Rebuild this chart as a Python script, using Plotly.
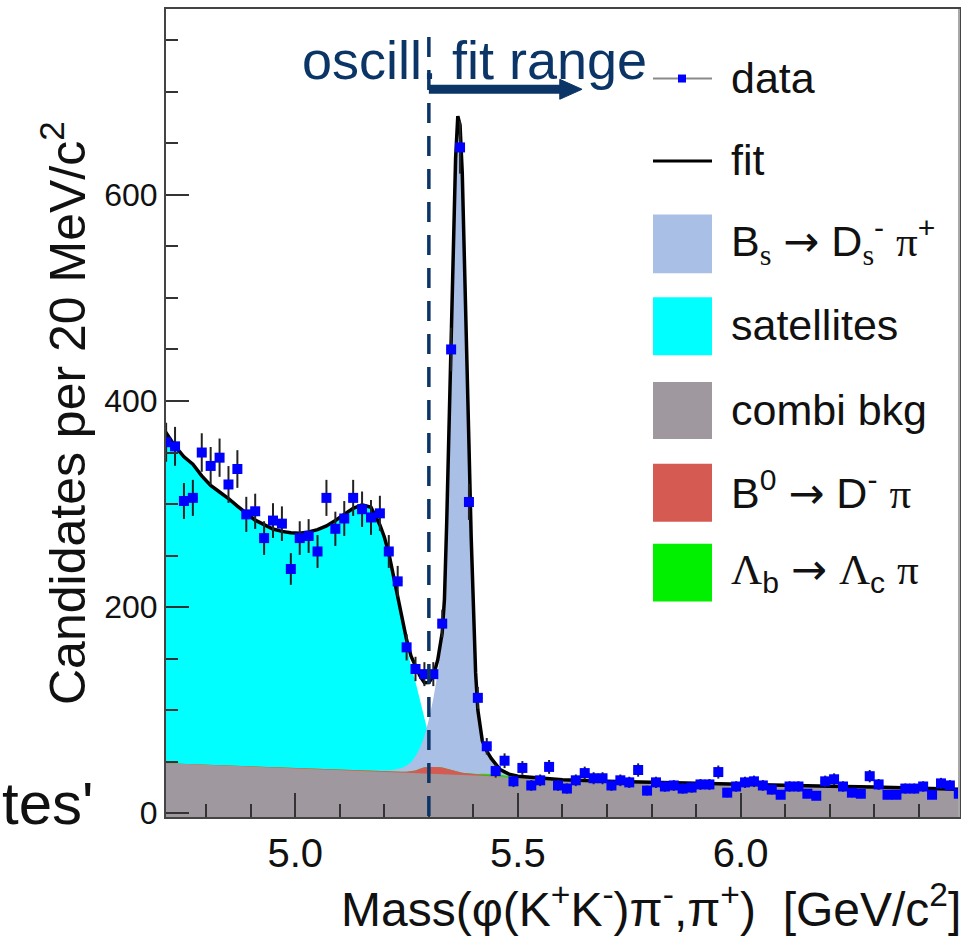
import numpy as np
import plotly.graph_objects as go

# ---------------------------------------------------------------
# Measured candidates, 20 MeV/c^2 bins (bin centres in GeV/c^2)
# ---------------------------------------------------------------
bin_centres = np.round(np.arange(4.71, 6.50, 0.02), 2)
counts = [
    360, 356, 303, 306, 350, 337, 345, 319, 334, 290,
    293, 267, 284, 281, 237, 267, 269, 254, 306, 276,
    286, 306, 295, 287, 291, 254, 225, 161, 140, 135,
    135, 184,
    450, 646, 302, 112, 65, 41, 51, 31, 44, 27,
    32, 45, 27, 24, 32, 39, 34, 34, 27, 32,
    30, 42, 22, 30, 26, 27, 24, 25, 28, 28,
    40, 20, 26, 30, 31, 27, 23, 18, 26, 26,
    19, 17, 31, 33, 26, 20, 19, 36, 28, 18,
    18, 24, 24, 26, 18, 29, 27, 19,
]

# ---------------------------------------------------------------
# Fit model components evaluated on a mass grid
# ---------------------------------------------------------------
m_fit = [
    4.70, 4.73, 4.75, 4.77, 4.79, 4.81, 4.83, 4.85, 4.87, 4.89,
    4.91, 4.93, 4.95, 4.97, 4.99, 5.01, 5.03, 5.05, 5.07, 5.09,
    5.11, 5.13, 5.15, 5.17, 5.19,
    5.20, 5.21, 5.22, 5.23, 5.24, 5.25, 5.26, 5.27, 5.28, 5.29,
    5.30, 5.31, 5.32, 5.33,
    5.335, 5.34, 5.345, 5.35, 5.355, 5.36, 5.365, 5.37, 5.375, 5.38,
    5.385, 5.39, 5.395, 5.40, 5.405, 5.41,
    5.42, 5.43, 5.44, 5.46, 5.48, 5.50, 5.55, 5.60, 5.70, 5.80,
    5.90, 6.00, 6.10, 6.20, 6.30, 6.40, 6.50,
]
combi_bkg = [
    48.7, 48.2, 47.9, 47.6, 47.3, 47.0, 46.7, 46.4, 46.0, 45.7,
    45.4, 45.1, 44.8, 44.5, 44.2, 43.8, 43.5, 43.2, 42.8, 42.5,
    42.1, 41.8, 41.5, 41.1, 40.8,
    40.6, 40.4, 40.3, 40.1, 39.9, 39.8, 39.6, 39.4, 39.3, 39.1,
    38.9, 38.8, 38.6, 38.4,
    38.3, 38.2, 38.1, 38.0, 37.9, 37.8, 37.7, 37.6, 37.5, 37.4,
    37.3, 37.2, 37.1, 37.0, 36.8, 36.7,
    36.4, 36.1, 35.8, 35.2, 34.6, 34.0, 33.0, 32.0, 30.8, 29.8,
    28.9, 28.0, 27.2, 26.3, 25.4, 24.4, 23.3,
]
satellites = [
    327, 308, 298, 291, 280, 271, 265, 259, 252, 245,
    239, 235, 231, 229, 228, 228, 229.5, 232, 236, 241.5,
    248, 254, 257.5, 255.5, 238.5,
    227, 211, 190, 169, 148, 122, 103, 88, 70, 52,
    36, 22, 12, 6,
    4, 3, 2, 1.5, 1, 0.5, 0.3, 0.2, 0, 0,
    0, 0, 0, 0, 0, 0,
    0, 0, 0, 0, 0, 0, 0, 0, 0, 0,
    0, 0, 0, 0, 0, 0, 0,
]
b0_dpi = [
    0, 0, 0, 0, 0, 0, 0, 0, 0, 0,
    0, 0, 0, 0, 0, 0, 0, 0, 0, 0,
    0, 0, 0, 0, 0,
    0, 0, 0.1, 0.2, 0.3, 0.5, 0.9, 2, 4, 5.5,
    6, 6.3, 6.3, 6,
    5.5, 5, 4.5, 4, 3.3, 2.8, 2.4, 2, 1.8, 1.6,
    1.5, 1.4, 1.3, 1.2, 1.1, 1.0,
    0.9, 0.8, 0.6, 0.4, 0.2, 0.1, 0, 0, 0, 0,
    0, 0, 0, 0, 0, 0, 0,
]
lb_lcpi = [
    0, 0, 0, 0, 0, 0, 0, 0, 0, 0,
    0, 0, 0, 0, 0, 0, 0, 0, 0, 0,
    0, 0, 0, 0, 0,
    0, 0, 0, 0, 0, 0, 0, 0, 0, 0,
    0, 0, 0, 0,
    0, 0, 0, 0, 0, 0, 0, 0, 0, 0,
    0, 0, 0, 0.2, 0.3, 0.5,
    1.0, 1.5, 1.8, 1.8, 1.2, 0.6, 0.1, 0, 0, 0,
    0, 0, 0, 0, 0, 0, 0,
]
bs_dspi = [
    0, 0, 0, 0, 0, 0, 0, 0, 0, 0,
    0, 0, 0, 0, 0, 0, 0, 0, 0, 0,
    0, 0.1, 0.2, 0.3, 0.4,
    0.5, 1, 1.5, 2.5, 4, 6, 9, 14, 20, 30,
    46, 66, 92, 125,
    160, 235, 325, 425, 520, 594, 636, 628, 582, 503,
    415, 320, 230, 160, 98, 62,
    32, 22, 15, 5, 2, 1.2, 0.8, 0.5, 0.3, 0.2,
    0.1, 0, 0, 0, 0, 0, 0,
]

# axis ticks
x_major = [5.0, 5.5, 6.0]
x_major_text = ["5.0", "5.5", "6.0"]
y_major = [0, 200, 400, 600]

# ---------------------------------------------------------------
# Stacked curves
# ---------------------------------------------------------------
combi = np.array(combi_bkg)
sat = np.array(satellites)
b0 = np.array(b0_dpi)
lb = np.array(lb_lcpi)
bs = np.array(bs_dspi)

sat_top = combi + sat
red_top = combi + b0
green_top = combi + b0 + lb
blue_top = combi + b0 + lb + bs
fit_total = combi + b0 + lb + sat + bs

FONT = "Arial, Liberation Sans, sans-serif"
NAVY = "#0b3566"
CYAN = "#00ffff"
BS_BLUE = "#a9bfe6"
GREY = "#9f999f"
RED = "#d45a52"
GREEN = "#00f000"

X_RANGE = [4.7097, 6.4905]
Y_RANGE = [-3.6, 780.3]

# pixel frame of the plotting area
PL, PR, PT, PB = 166, 959, 7, 817
W, H = PR - PL, PB - PT


def px(x):
    return (x - PL) / W


def py(y):
    return (PB - y) / H


fig = go.Figure()


def area(y, color, fill="tozeroy"):
    fig.add_trace(go.Scatter(
        x=m_fit, y=y, mode="lines", line=dict(width=0, color=color),
        fill=fill, fillcolor=color, showlegend=False, hoverinfo="skip"))


area(sat_top, CYAN)
area(blue_top, BS_BLUE)
area(green_top, GREEN)
area(red_top, RED)
# floor of the frame, so the combinatorial band reaches the bottom edge
fig.add_trace(go.Scatter(x=m_fit, y=[Y_RANGE[0]] * len(m_fit), mode="lines",
                         line=dict(width=0), showlegend=False, hoverinfo="skip"))
area(combi, GREY, fill="tonexty")

# total fit
fig.add_trace(go.Scatter(
    x=m_fit, y=fit_total, mode="lines",
    line=dict(color="black", width=3.5), showlegend=False))

# data with Poisson errors
fig.add_trace(go.Scatter(
    x=bin_centres, y=counts, mode="markers",
    marker=dict(symbol="square", size=10, color="#0000ff"),
    error_y=dict(type="sqrt", color="#222222", thickness=2, width=0),
    error_x=dict(type="constant", value=0.01, color="#0000ff", thickness=2, width=0),
    showlegend=False))

shapes = []
# oscillation fit range marker
shapes.append(dict(type="line", xref="x", yref="paper", x0=5.3, x1=5.3,
                   y0=py(35), y1=0, line=dict(color=NAVY, width=3.5, dash="20px,13px"),
                   layer="above"))
arrow_y = py(87.5)
shapes.append(dict(type="line", xref="x", yref="paper", x0=5.3, x1=5.6,
                   y0=arrow_y, y1=arrow_y, line=dict(color=NAVY, width=9), layer="above"))
head_top, head_bot = py(77.5), py(97.5)
shapes.append(dict(type="path", xref="x", yref="paper",
                   path=f"M 5.594,{head_top} L 5.644,{arrow_y} L 5.594,{head_bot} Z",
                   fillcolor=NAVY, line=dict(color=NAVY, width=1), layer="above"))
# lighter right-hand frame edge
shapes.append(dict(type="line", xref="paper", yref="paper", x0=1, x1=1, y0=0, y1=1,
                   line=dict(color="#a8a8a8", width=2), layer="above"))

# hand-built legend
LX0, LX1 = 653, 712
shapes.append(dict(type="line", xref="paper", yref="paper", x0=px(LX0), x1=px(LX1),
                   y0=py(76.7), y1=py(76.7), line=dict(color="#8a8a8a", width=2)))
shapes.append(dict(type="rect", xref="paper", yref="paper", x0=px(678), x1=px(686),
                   y0=py(80.7), y1=py(72.7), fillcolor="#0000ff", line=dict(width=0)))
shapes.append(dict(type="line", xref="paper", yref="paper", x0=px(LX0), x1=px(LX1),
                   y0=py(159.3), y1=py(159.3), line=dict(color="black", width=3)))
boxes = [(BS_BLUE, 213, 272), (CYAN, 296, 354), (GREY, 381, 438),
         (RED, 463, 521), (GREEN, 543, 601)]
for col, top, bot in boxes:
    shapes.append(dict(type="rect", xref="paper", yref="paper", x0=px(LX0), x1=px(LX1),
                       y0=py(bot), y1=py(top), fillcolor=col, line=dict(width=0)))

SERIF = "font-family:'Liberation Serif','Times New Roman',serif"
ARROW = "<span style=\"font-family:'DejaVu Sans'\">→</span>"
legend_rows = [
    ("data", 76),
    ("fit", 158),
    (f"B<sub><span style=\"{SERIF}\">s</span></sub> {ARROW} D<sub><span style=\"{SERIF}\">s</span></sub><sup>-</sup> "
     f"<span style=\"{SERIF}\">π</span><sup>+</sup>", 240),
    ("satellites", 324),
    ("combi bkg", 409),
    (f"B<sup>0</sup> {ARROW} D<sup>-</sup> <span style=\"{SERIF}\">π</span>", 490),
    (f"<span style=\"{SERIF}\">Λ</span><sub>b</sub> {ARROW} <span style=\"{SERIF}\">Λ</span><sub>c</sub> "
     f"<span style=\"{SERIF}\">π</span>", 571),
]
annotations = []
for txt, yc in legend_rows:
    annotations.append(dict(text=txt, xref="paper", yref="paper", x=px(729), y=py(yc),
                            xanchor="left", yanchor="middle", showarrow=False,
                            font=dict(family=FONT, size=43, color="#111111")))

annotations.append(dict(text="oscill. fit range", xref="paper", yref="paper",
                        x=px(300), y=py(58), xanchor="left", yanchor="middle",
                        showarrow=False, font=dict(family=FONT, size=54, color=NAVY)))

annotations.append(dict(text="Candidates per 20 MeV/c<sup>2</sup>", xref="paper", yref="paper",
                        x=px(64), y=py(412), xanchor="center", yanchor="middle",
                        textangle=-90, showarrow=False,
                        font=dict(family=FONT, size=50, color="#111111")))

annotations.append(dict(
    text="Mass(φ(K<sup>+</sup>K<sup>-</sup>)π<sup>-</sup>,π<sup>+</sup>)\u00a0\u00a0[GeV/c<sup>2</sup>]",
    xref="paper", yref="paper", x=px(963), y=py(906), xanchor="right", yanchor="middle",
    showarrow=False, font=dict(family=FONT, size=48, color="#111111")))

annotations.append(dict(text="tes'", xref="paper", yref="paper", x=px(0), y=py(803),
                        xanchor="left", yanchor="middle", showarrow=False,
                        font=dict(family=FONT, size=60, color="#111111")))

fig.update_layout(
    width=975, height=938,
    margin=dict(l=PL, r=975 - PR, t=PT, b=938 - PB, pad=0),
    paper_bgcolor="white", plot_bgcolor="white",
    shapes=shapes, annotations=annotations,
    showlegend=False,
    xaxis=dict(
        range=X_RANGE, showgrid=False, zeroline=False,
        showline=True, linecolor="#444444", linewidth=2, mirror=True,
        ticks="inside", tickmode="array", tickvals=x_major, ticktext=x_major_text,
        ticklen=24, tickwidth=2, tickcolor="#333333",
        minor=dict(ticks="inside", dtick=0.1, tick0=4.8, ticklen=13, tickwidth=2,
                   tickcolor="#333333", showgrid=False),
        tickfont=dict(family=FONT, size=40, color="#111111"),
    ),
    yaxis=dict(
        range=Y_RANGE, showgrid=False, zeroline=False,
        showline=True, linecolor="#444444", linewidth=2, mirror=True,
        ticks="inside", tickmode="array", tickvals=y_major,
        ticklen=23, tickwidth=2, tickcolor="#333333",
        minor=dict(ticks="inside", dtick=50, tick0=0, ticklen=12, tickwidth=2,
                   tickcolor="#333333", showgrid=False),
        tickfont=dict(family=FONT, size=32, color="#111111"),
    ),
)

fig.write_html("out.html")
